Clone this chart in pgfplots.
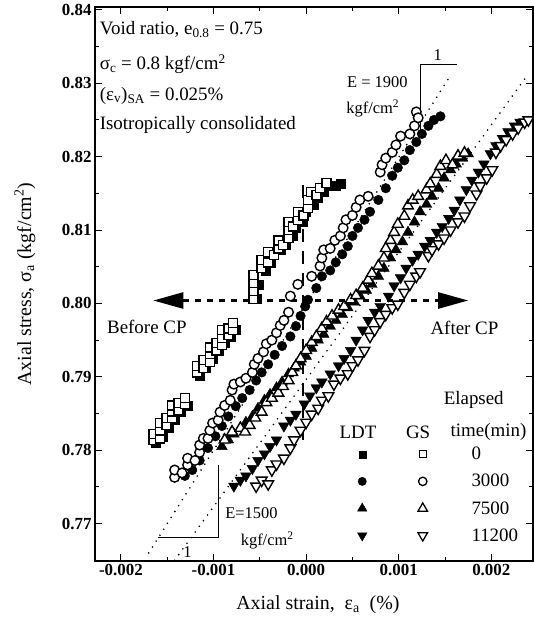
\documentclass[border=0pt]{standalone}
\usepackage{fontspec}
\setmainfont{Liberation Serif}
\usepackage{pgfplots}
\pgfplotsset{compat=1.18}
\usetikzlibrary{arrows.meta}
\newcommand\fT{\fontsize{19}{22}\selectfont}
\newcommand\fS{\fontsize{16.5}{19}\selectfont}
\begin{document}
\begin{tikzpicture}
\begin{axis}[
 width=438bp, height=554bp, scale only axis,
 xmin=-0.00228, xmax=0.00245, ymin=0.7649, ymax=0.8404,
 xtick={-0.002,-0.001,0,0.001,0.002},
 xticklabels={-0.002,-0.001,0.000,0.001,0.002},
 minor xtick={-0.0015,-0.0005,0.0005,0.0015},
 ytick={0.77,0.78,0.79,0.80,0.81,0.82,0.83,0.84},
 yticklabels={0.77,0.78,0.79,0.80,0.81,0.82,0.83,0.84},
 minor ytick={0.775,0.785,0.795,0.805,0.815,0.825,0.835},
 scaled x ticks=false, scaled y ticks=false,
 tick align=inside,
 major tick length=7bp, minor tick length=4bp,
 every tick/.style={black, line width=1bp},
 axis line style={line width=1.5bp},
 ticklabel style={font=\fontsize{17}{20}\selectfont\bfseries},
 xlabel={Axial strain,\ \ ε\textsubscript{a}\ \ (\%)},
 ylabel={Axial stress, σ\textsubscript{a} (kgf/cm\textsuperscript{2})},
 label style={font=\fontsize{20}{24}\selectfont},
 xlabel style={at={(axis description cs:0.509,-0.079)}, anchor=center},
 ylabel style={at={(axis description cs:-0.160,0.5)}, anchor=center},
 clip=false,
 legend columns=2,
 legend style={draw=none, fill=none, font=\fT, at={(axis cs:0.00052,0.7807)}, anchor=north west,
   row sep=13bp, nodes={inner sep=0pt},
   /tikz/every odd column/.append style={column sep=44bp},
   /tikz/every even column/.append style={column sep=6bp}},
 legend cell align=left,
]
\coordinate (bl) at (rel axis cs:0,0);
\coordinate (tr) at (rel axis cs:1,1);
% reference lines
\addplot[forget plot, black, line width=2.2bp, dash pattern=on 13bp off 9bp] coordinates {(-0.00003,0.7814) (-0.00003,0.8168)};
\addplot[forget plot, black, line width=1.8bp, dash pattern=on 0bp off 7bp, line cap=round] coordinates {(-0.00170,0.7660) (0.00154,0.8307)};
\addplot[forget plot, black, line width=1.8bp, dash pattern=on 0bp off 7bp, line cap=round] coordinates {(-0.00142,0.7650) (0.00239,0.8311)};
% time 0
\addplot[forget plot, only marks, mark=square*, mark size=4.5bp, black] coordinates {
(-0.00162,0.7810) (-0.00155,0.7819) (-0.00148,0.7830) (-0.00142,0.7841) (-0.00135,0.7852) (-0.00128,0.7860)
(-0.00115,0.7902) (-0.00108,0.7912) (-0.00101,0.7925) (-0.00094,0.7936) (-0.00088,0.7946) (-0.00081,0.7955) (-0.00076,0.7964)
(-0.00053,0.8007) (-0.00051,0.8025) (-0.00044,0.8045) (-0.00038,0.8056) (-0.00027,0.8073) (-0.00022,0.8080) (-0.00015,0.8092) (-0.00011,0.8103) (-0.00004,0.8111) (0.00000,0.8125) (0.00008,0.8134) (0.00013,0.8144) (0.00019,0.8152) (0.00026,0.8160) (0.00032,0.8161) (0.00037,0.8163)};
\addplot[forget plot, only marks, mark=square*, mark size=4.5bp, black, line width=1.4bp, mark options={fill=white}] coordinates {
(-0.00165,0.7814) (-0.00165,0.7822) (-0.00158,0.7816) (-0.00158,0.7827) (-0.00158,0.7837) (-0.00151,0.7834) (-0.00151,0.7844) (-0.00145,0.7844) (-0.00145,0.7853) (-0.00145,0.7861) (-0.00138,0.7855) (-0.00138,0.7864) (-0.00131,0.7863) (-0.00131,0.7871)
(-0.00118,0.7906) (-0.00118,0.7915) (-0.00111,0.7912) (-0.00111,0.7923) (-0.00104,0.7920) (-0.00104,0.7931) (-0.00104,0.7940) (-0.00097,0.7936) (-0.00097,0.7946) (-0.00091,0.7943) (-0.00091,0.7953) (-0.00091,0.7964) (-0.00084,0.7957) (-0.00084,0.7966) (-0.00079,0.7964) (-0.00079,0.7973)
(-0.00057,0.8006) (-0.00057,0.8017) (-0.00057,0.8028) (-0.00057,0.8039) (-0.00048,0.8048) (-0.00048,0.8059) (-0.00041,0.8056) (-0.00041,0.8070) (-0.00035,0.8066) (-0.00030,0.8075) (-0.00030,0.8086) (-0.00025,0.8080) (-0.00019,0.8089) (-0.00019,0.8100) (-0.00019,0.8111) (-0.00014,0.8105) (-0.00009,0.8114) (-0.00009,0.8125) (-0.00003,0.8120) (0.00002,0.8130) (0.00002,0.8141) (0.00005,0.8152) (0.00011,0.8148) (0.00015,0.8157) (0.00022,0.8164)};
% time 3000
\addplot[forget plot, only marks, mark=*, mark size=4.8bp, black] coordinates {
(-0.00131,0.7765) (-0.00123,0.7773) (-0.00115,0.7786) (-0.00106,0.7803) (-0.00098,0.7819) (-0.00091,0.7833) (-0.00084,0.7846) (-0.00076,0.7860) (-0.00069,0.7871) (-0.00061,0.7882) (-0.00054,0.7895) (-0.00048,0.7906) (-0.00041,0.7917) (-0.00034,0.7930) (-0.00026,0.7942) (-0.00017,0.7955) (-0.00011,0.7969) (-0.00006,0.7983) (-0.00001,0.7996) (0.00002,0.8005) (0.00011,0.8021) (0.00017,0.8037) (0.00026,0.8045) (0.00032,0.8056) (0.00039,0.8067) (0.00045,0.8078) (0.00050,0.8092) (0.00056,0.8103) (0.00063,0.8114) (0.00069,0.8125) (0.00078,0.8141) (0.00086,0.8157) (0.00093,0.8174) (0.00099,0.8185) (0.00106,0.8195) (0.00112,0.8209) (0.00119,0.8220) (0.00125,0.8231) (0.00132,0.8242) (0.00138,0.8250) (0.00145,0.8255)};
\addplot[forget plot, only marks, mark=*, mark size=4.8bp, black, line width=1.4bp, mark options={fill=white}] coordinates {
(-0.00142,0.7763) (-0.00142,0.7773) (-0.00134,0.7769) (-0.00128,0.7780) (-0.00128,0.7789) (-0.00120,0.7786) (-0.00115,0.7797) (-0.00115,0.7807) (-0.00111,0.7816) (-0.00106,0.7816) (-0.00104,0.7827) (-0.00101,0.7837) (-0.00095,0.7841) (-0.00093,0.7852) (-0.00088,0.7861) (-0.00082,0.7868) (-0.00080,0.7882) (-0.00078,0.7890) (-0.00071,0.7893) (-0.00065,0.7898) (-0.00058,0.7906) (-0.00056,0.7917) (-0.00052,0.7925) (-0.00046,0.7934) (-0.00043,0.7945) (-0.00037,0.7950) (-0.00032,0.7960) (-0.00028,0.7970) (-0.00024,0.7977) (-0.00019,0.7988) (-0.00017,0.8010) (-0.00009,0.8026) (0.00006,0.8037) (0.00015,0.8051) (0.00017,0.8062) (0.00019,0.8073) (0.00026,0.8075) (0.00031,0.8086) (0.00037,0.8092) (0.00040,0.8103) (0.00043,0.8114) (0.00050,0.8120) (0.00054,0.8131) (0.00058,0.8141) (0.00067,0.8146) (0.00080,0.8179) (0.00082,0.8189) (0.00086,0.8198) (0.00093,0.8206) (0.00097,0.8216) (0.00102,0.8228) (0.00112,0.8231) (0.00117,0.8242) (0.00119,0.8261) (0.00121,0.8253)};
% time 7500
\addplot[forget plot, only marks, mark=triangle*, mark size=6.2bp, black] coordinates {
(-0.00091,0.7805) (-0.00084,0.7814) (-0.00078,0.7822) (-0.00071,0.7830) (-0.00065,0.7838) (-0.00058,0.7846) (-0.00052,0.7857) (-0.00045,0.7868) (-0.00039,0.7876) (-0.00032,0.7885) (-0.00026,0.7893) (-0.00019,0.7904) (-0.00013,0.7912) (-0.00006,0.7920) (0.00000,0.7928) (0.00006,0.7939) (0.00013,0.7950) (0.00019,0.7958) (0.00026,0.7969) (0.00032,0.7977) (0.00039,0.7985) (0.00045,0.7994) (0.00052,0.8002) (0.00058,0.8010) (0.00065,0.8018) (0.00071,0.8026) (0.00078,0.8037) (0.00084,0.8048) (0.00091,0.8062) (0.00097,0.8073) (0.00104,0.8084) (0.00110,0.8097) (0.00117,0.8111) (0.00123,0.8125) (0.00130,0.8135) (0.00136,0.8146) (0.00143,0.8157) (0.00149,0.8171) (0.00156,0.8182) (0.00162,0.8190) (0.00169,0.8198) (0.00175,0.8204)};
\addplot[forget plot, only marks, mark=triangle*, mark size=6.2bp, black, line width=1.4bp, mark options={fill=white}] coordinates {
(-0.00088,0.7814) (-0.00080,0.7825) (-0.00071,0.7830) (-0.00066,0.7825) (-0.00061,0.7834) (-0.00055,0.7844) (-0.00048,0.7852) (-0.00043,0.7865) (-0.00037,0.7871) (-0.00030,0.7878) (-0.00025,0.7887) (-0.00019,0.7895) (-0.00015,0.7906) (-0.00011,0.7915) (-0.00006,0.7925) (0.00000,0.7936) (0.00006,0.7947) (0.00011,0.7955) (0.00017,0.7966) (0.00022,0.7975) (0.00028,0.7983) (0.00035,0.7991) (0.00041,0.7996) (0.00048,0.8005) (0.00054,0.8011) (0.00061,0.8021) (0.00067,0.8032) (0.00071,0.8041) (0.00078,0.8051) (0.00084,0.8062) (0.00086,0.8075) (0.00091,0.8086) (0.00095,0.8097) (0.00099,0.8108) (0.00106,0.8119) (0.00110,0.8133) (0.00115,0.8141) (0.00121,0.8146) (0.00130,0.8155) (0.00134,0.8163) (0.00141,0.8176) (0.00145,0.8187) (0.00151,0.8195) (0.00158,0.8189) (0.00164,0.8201) (0.00171,0.8205)};
% time 11200
\addplot[forget plot, only marks, mark=triangle*, mark size=6.2bp, black, mark options={rotate=180}] coordinates {
(-0.00078,0.7751) (-0.00071,0.7759) (-0.00065,0.7765) (-0.00058,0.7775) (-0.00052,0.7786) (-0.00045,0.7795) (-0.00039,0.7805) (-0.00032,0.7814) (-0.00024,0.7833) (-0.00017,0.7841) (-0.00011,0.7849) (-0.00002,0.7863) (0.00004,0.7874) (0.00011,0.7885) (0.00017,0.7893) (0.00026,0.7904) (0.00035,0.7915) (0.00041,0.7925) (0.00048,0.7936) (0.00054,0.7950) (0.00061,0.7964) (0.00067,0.7977) (0.00074,0.7988) (0.00080,0.7996) (0.00089,0.8010) (0.00095,0.8024) (0.00102,0.8035) (0.00108,0.8048) (0.00115,0.8059) (0.00121,0.8067) (0.00128,0.8078) (0.00134,0.8086) (0.00141,0.8097) (0.00147,0.8105) (0.00154,0.8116) (0.00160,0.8127) (0.00166,0.8141) (0.00173,0.8155) (0.00179,0.8168) (0.00186,0.8179) (0.00192,0.8190) (0.00199,0.8204) (0.00205,0.8215) (0.00212,0.8225) (0.00218,0.8234) (0.00225,0.8242) (0.00231,0.8247)};
\addplot[forget plot, only marks, mark=triangle*, mark size=6.2bp, black, line width=1.4bp, mark options={fill=white, rotate=180}] coordinates {
(-0.00054,0.7751) (-0.00048,0.7759) (-0.00041,0.7754) (-0.00037,0.7773) (-0.00032,0.7781) (-0.00024,0.7789) (-0.00017,0.7803) (-0.00013,0.7814) (-0.00006,0.7827) (0.00000,0.7838) (0.00006,0.7849) (0.00013,0.7857) (0.00017,0.7868) (0.00024,0.7874) (0.00030,0.7890) (0.00037,0.7898) (0.00045,0.7904) (0.00050,0.7915) (0.00056,0.7923) (0.00063,0.7936) (0.00069,0.7955) (0.00074,0.7964) (0.00080,0.7975) (0.00086,0.7985) (0.00093,0.7994) (0.00099,0.7999) (0.00106,0.8015) (0.00112,0.8026) (0.00119,0.8037) (0.00123,0.8043) (0.00132,0.8065) (0.00136,0.8073) (0.00143,0.8081) (0.00149,0.8089) (0.00156,0.8100) (0.00164,0.8111) (0.00171,0.8119) (0.00177,0.8133) (0.00184,0.8149) (0.00188,0.8160) (0.00195,0.8171) (0.00201,0.8182) (0.00205,0.8206) (0.00210,0.8215) (0.00216,0.8223) (0.00223,0.8231) (0.00229,0.8239) (0.00236,0.8247) (0.00240,0.8250)};
% legend
\addlegendimage{only marks, mark=square*, mark size=3.5bp, black}
\addlegendentry{}
\addlegendimage{only marks, mark=square*, mark size=3.5bp, black, line width=1.3bp, mark options={fill=white}}
\addlegendentry{0}
\addlegendimage{only marks, mark=*, mark size=4.2bp, black}
\addlegendentry{}
\addlegendimage{only marks, mark=*, mark size=4.2bp, black, line width=1.3bp, mark options={fill=white}}
\addlegendentry{3000}
\addlegendimage{only marks, mark=triangle*, mark size=5.5bp, black}
\addlegendentry{}
\addlegendimage{only marks, mark=triangle*, mark size=5.5bp, black, line width=1.3bp, mark options={fill=white}}
\addlegendentry{7500}
\addlegendimage{only marks, mark=triangle*, mark size=5.5bp, black, mark options={rotate=180}}
\addlegendentry{}
\addlegendimage{only marks, mark=triangle*, mark size=5.5bp, black, line width=1.3bp, mark options={fill=white, rotate=180}}
\addlegendentry{11200}
% annotations
\node[anchor=west, inner sep=0pt, font=\fT] at (axis cs:-0.00223,0.8373) {Void ratio, e\textsubscript{0.8} = 0.75};
\node[anchor=west, inner sep=0pt, font=\fT] at (axis cs:-0.00223,0.8326) {σ\textsubscript{c} = 0.8 kgf/cm\textsuperscript{2}};
\node[anchor=west, inner sep=0pt, font=\fT] at (axis cs:-0.00223,0.8283) {(ε\textsubscript{v})\textsubscript{SA} = 0.025\%};
\node[anchor=west, inner sep=0pt, font=\fT] at (axis cs:-0.00223,0.8243) {Isotropically consolidated};
\draw[line width=2.5bp, dash pattern=on 6bp off 6bp, {Triangle[length=30bp,width=16bp]}-{Triangle[length=30bp,width=16bp]}] (axis cs:-0.00165,0.8004) -- (axis cs:0.00175,0.8004);
\node[font=\fT] at (axis cs:-0.00172,0.7968) {Before CP};
\node[font=\fT] at (axis cs:0.00171,0.7966) {After CP};
% slope triangles
\draw[line width=1bp] (axis cs:0.00163,0.8325) -- (axis cs:0.00123,0.8325) -- (axis cs:0.00123,0.8236);
\node[font=\fS] at (axis cs:0.00142,0.8338) {1};
\node[font=\fS] at (axis cs:0.00077,0.8302) {E = 1900};
\node[font=\fS] at (axis cs:0.00072,0.8266) {kgf/cm\textsuperscript{2}};
\draw[line width=1bp] (axis cs:-0.00160,0.7681) -- (axis cs:-0.00095,0.7681) -- (axis cs:-0.00095,0.7780);
\node[font=\fS] at (axis cs:-0.00128,0.7661) {1};
\node[font=\fS] at (axis cs:-0.00059,0.7714) {E=1500};
\node[font=\fS] at (axis cs:-0.00042,0.7677) {kgf/cm\textsuperscript{2}};
% legend headers
\node[font=\fT] at (axis cs:0.00181,0.7868) {Elapsed};
\node[font=\fT] at (axis cs:0.00056,0.7825) {LDT};
\node[font=\fT] at (axis cs:0.00121,0.7825) {GS};
\node[font=\fT] at (axis cs:0.00197,0.7825) {time(min)};
\end{axis}
\path ([shift={(-95bp,-60bp)}]bl) rectangle ([shift={(1bp,7bp)}]tr);
\end{tikzpicture}
\end{document}
